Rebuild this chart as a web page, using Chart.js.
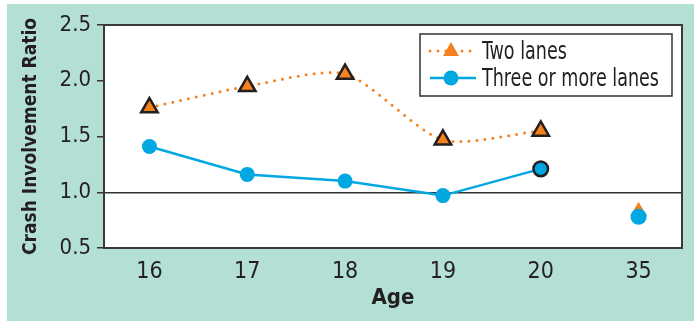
<!DOCTYPE html>
<html lang="en">
<head>
<meta charset="UTF-8">
<title>Crash Involvement Ratio by Age</title>
<script src="https://cdn.jsdelivr.net/npm/chart.js"></script>
<style>
  body { margin: 0; background: #fff; }
  .panel { position: absolute; left: 7px; top: 4px; width: 687px; height: 317px; background: #b3dfd5; }
</style>
</head>
<body>
<div class="panel"><canvas id="grafico"></canvas></div>
<script>
const ages = ['16', '17', '18', '19', '20', '35'];
const twoLanes = [1.76, 1.95, 2.06, 1.47, 1.55, 0.83];
const threeLanes = [1.41, 1.16, 1.10, 0.97, 1.21, 0.78];
const yTicks = [0.5, 1.0, 1.5, 2.0, 2.5];
const seriesNames = ['Two lanes', 'Three or more lanes'];

const orange = '#f5821f', blue = '#00a7e1', ink = '#231f20';
const font = "'Liberation Sans Narrow', 'DejaVu Sans Condensed', sans-serif";
const lastYoung = 4; // age 20; age 35 stands apart, not joined by the lines

const pts = arr => arr.map((v, i) => ({ x: i, y: v }));
const young = arr => pts(arr).slice(0, lastYoung + 1);
const older = arr => pts(arr).slice(lastYoung + 1);

// white plot area with a dark box round it
const frame = {
    id: 'frame',
    beforeDraw(chart) {
        const { ctx, chartArea: a } = chart;
        ctx.save();
        ctx.fillStyle = '#fff';
        ctx.fillRect(a.left, a.top, a.right - a.left, a.bottom - a.top);
        ctx.restore();
    },
    afterDatasetsDraw(chart) {
        const { ctx, chartArea: a } = chart;
        ctx.save();
        ctx.strokeStyle = '#3a3a3a';
        ctx.lineWidth = 2;
        ctx.strokeRect(a.left, a.top, a.right - a.left, a.bottom - a.top);
        ctx.restore();
    }
};

// legend in a white box, top right inside the plot
const legendBox = {
    id: 'legendBox',
    afterDraw(chart) {
        const { ctx, chartArea: a } = chart;
        const w = 252, h = 62;
        const x = a.right - 10 - w, y = a.top + 9;
        ctx.save();
        ctx.fillStyle = '#fff';
        ctx.fillRect(x, y, w, h);
        ctx.strokeStyle = '#333';
        ctx.lineWidth = 1.5;
        ctx.strokeRect(x, y, w, h);

        const r1 = y + 17, r2 = y + 44, mx = x + 31;
        // two lanes: dotted line + triangle
        ctx.strokeStyle = orange;
        ctx.lineWidth = 3;
        ctx.lineCap = 'round';
        ctx.setLineDash([0, 8]);
        ctx.beginPath();
        ctx.moveTo(x + 10, r1); ctx.lineTo(x + 57, r1);
        ctx.stroke();
        ctx.setLineDash([]);
        ctx.fillStyle = orange;
        ctx.beginPath();
        ctx.moveTo(mx, r1 - 9); ctx.lineTo(mx + 8, r1 + 5); ctx.lineTo(mx - 8, r1 + 5);
        ctx.closePath();
        ctx.fill();
        // three or more lanes: solid line + circle
        ctx.strokeStyle = blue;
        ctx.lineWidth = 2.5;
        ctx.lineCap = 'butt';
        ctx.beginPath();
        ctx.moveTo(x + 10, r2); ctx.lineTo(x + 56, r2);
        ctx.stroke();
        ctx.fillStyle = blue;
        ctx.beginPath();
        ctx.arc(mx, r2, 7.5, 0, Math.PI * 2);
        ctx.fill();

        // condensed lettering
        ctx.fillStyle = ink;
        ctx.font = '25px ' + font;
        ctx.textBaseline = 'middle';
        ctx.translate(x + 62, 0);
        ctx.scale(0.78, 1);
        ctx.fillText(seriesNames[0], 0, r1 + 1);
        ctx.fillText(seriesNames[1], 0, r2 + 1);
        ctx.restore();
    }
};

new Chart(document.getElementById('grafico'), {
    type: 'line',
    data: {
        datasets: [
            {
                label: seriesNames[0], data: young(twoLanes), order: 1,
                borderColor: orange, borderWidth: 3, borderDash: [0, 8], borderCapStyle: 'round',
                tension: 0.25,
                pointStyle: 'triangle', pointRadius: 9.5,
                pointBackgroundColor: orange, pointBorderColor: ink, pointBorderWidth: 2.5
            },
            {
                label: seriesNames[1], data: young(threeLanes), order: 0,
                borderColor: blue, borderWidth: 2.5, tension: 0,
                pointStyle: 'circle',
                pointRadius: ctx => ctx.dataIndex === lastYoung ? 7.3 : 7.5,
                pointBackgroundColor: blue, pointBorderColor: ink,
                pointBorderWidth: ctx => ctx.dataIndex === lastYoung ? 2.5 : 0
            },
            {
                label: seriesNames[0] + ' (35)', data: older(twoLanes), order: 3, showLine: false,
                pointStyle: 'triangle', pointRadius: 9.5,
                pointBackgroundColor: orange, pointBorderWidth: 0
            },
            {
                label: seriesNames[1] + ' (35)', data: older(threeLanes), order: 2, showLine: false,
                pointStyle: 'circle', pointRadius: 8,
                pointBackgroundColor: blue, pointBorderWidth: 0
            }
        ]
    },
    options: {
        responsive: true,
        maintainAspectRatio: false,
        animation: false,
        layout: { padding: { top: 21, right: 5, left: 0, bottom: 0 } },
        plugins: { legend: { display: false }, tooltip: { enabled: false } },
        scales: {
            x: {
                type: 'linear',
                min: -0.4646, max: 5.444,
                afterBuildTicks: s => { s.ticks = ages.map((a, i) => ({ value: i })); },
                afterFit: s => { s.height = 73; },
                grid: { display: false, drawTicks: false },
                border: { display: false },
                ticks: {
                    callback: v => ages[v],
                    color: ink, padding: 10,
                    font: { family: font, size: 23 }
                },
                title: {
                    display: true, text: 'Age', color: ink,
                    font: { family: font, size: 22, weight: 'bold', lineHeight: 1 },
                    padding: { top: 0, bottom: 12 }
                }
            },
            y: {
                min: 0.5, max: 2.5,
                afterBuildTicks: s => { s.ticks = yTicks.map(v => ({ value: v })); },
                afterFit: s => { s.width = 97; },
                grid: {
                    color: c => c.tick && c.tick.value === 1 ? '#333' : 'transparent',
                    tickColor: '#333', tickLength: 7, lineWidth: 1.5
                },
                border: { display: false },
                ticks: {
                    callback: v => v.toFixed(1),
                    color: ink, padding: 6,
                    font: { family: font, size: 22 }
                },
                title: {
                    display: true, text: 'Crash Involvement Ratio', color: ink,
                    font: { family: font, size: 19, weight: 'bold', lineHeight: 1 },
                    padding: { top: 15, bottom: 0 }
                }
            }
        }
    },
    plugins: [frame, legendBox]
});
</script>
</body>
</html>
